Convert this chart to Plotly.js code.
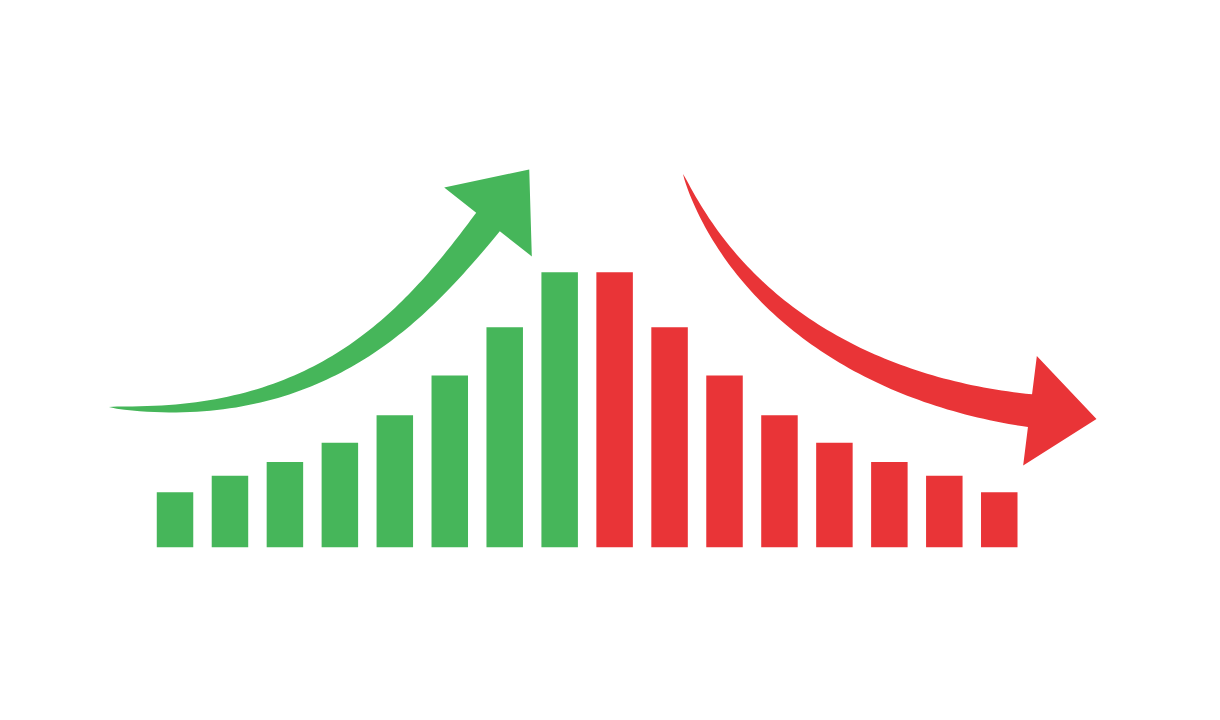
<!DOCTYPE html>
<html>
<head>
<meta charset="utf-8">
<script src="https://cdn.plot.ly/plotly-3.0.1.min.js"></script>
<style>
  html, body { margin: 0; padding: 0; background: #ffffff; }
  #chart { width: 1220px; height: 720px; }
</style>
</head>
<body>
<div id="chart"></div>
<script>
// ---- data ----
const risingPeriods  = ['P1', 'P2', 'P3', 'P4', 'P5', 'P6', 'P7', 'P8'];
const fallingPeriods = ['P9', 'P10', 'P11', 'P12', 'P13', 'P14', 'P15', 'P16'];
const risingValues   = [20, 26, 31, 38, 48, 62.5, 80, 100];
const fallingValues  = [100, 80, 62.5, 48, 38, 31, 26, 20];

// ---- styles ----
const GREEN = '#46b65a';
const RED = '#e93437';
const W = 1220, H = 720;

// ---- decorative tapered arrows (pixel geometry -> paper coords) ----
function toPaper(p) { return (p[0] / W).toFixed(5) + ',' + (1 - p[1] / H).toFixed(5); }
function bez(P, t) {
  const u = 1 - t;
  const a = u*u*u, b = 3*u*u*t, c = 3*u*t*t, d = t*t*t;
  return [a*P[0][0] + b*P[1][0] + c*P[2][0] + d*P[3][0],
          a*P[0][1] + b*P[1][1] + c*P[2][1] + d*P[3][1]];
}
function bezD(P, t) {
  const u = 1 - t;
  const x = 3*u*u*(P[1][0]-P[0][0]) + 6*u*t*(P[2][0]-P[1][0]) + 3*t*t*(P[3][0]-P[2][0]);
  const y = 3*u*u*(P[1][1]-P[0][1]) + 6*u*t*(P[2][1]-P[1][1]) + 3*t*t*(P[3][1]-P[2][1]);
  const L = Math.hypot(x, y) || 1;
  return [x / L, y / L];
}
function arrowPath(P, endWidth, power, headHalf, headLen) {
  const N = 80, A = [], B = [];
  for (let i = 0; i <= N; i++) {
    const t = i / N, c = bez(P, t), d = bezD(P, t), n = [-d[1], d[0]];
    const w = endWidth * Math.pow(t, power) / 2;
    A.push([c[0] + n[0]*w, c[1] + n[1]*w]);
    B.push([c[0] - n[0]*w, c[1] - n[1]*w]);
  }
  const e = P[3], d = bezD(P, 1), n = [-d[1], d[0]];
  const barbA = [e[0] + n[0]*headHalf, e[1] + n[1]*headHalf];
  const barbB = [e[0] - n[0]*headHalf, e[1] - n[1]*headHalf];
  const tip = [e[0] + d[0]*headLen, e[1] + d[1]*headLen];
  let s = 'M' + toPaper(A[0]);
  for (let i = 1; i <= N; i++) s += ' L' + toPaper(A[i]);
  s += ' L' + toPaper(barbA) + ' L' + toPaper(tip) + ' L' + toPaper(barbB);
  for (let i = N; i >= 0; i--) s += ' L' + toPaper(B[i]);
  return s + ' Z';
}
const upCurve   = [[109, 407], [320, 425], [415, 315], [488, 222]];
const downCurve = [[683, 174], [735, 303], [861, 389.6], [1030, 410.7]];

const traces = [
  { type: 'bar', name: 'Rising', x: risingPeriods, y: risingValues,
    marker: { color: GREEN, line: { width: 0 } }, width: 0.664 },
  { type: 'bar', name: 'Falling', x: fallingPeriods, y: fallingValues,
    marker: { color: RED, line: { width: 0 } }, width: 0.664 }
];

const layout = {
  width: W, height: H,
  margin: { l: 0, r: 0, t: 0, b: 0, pad: 0 },
  paper_bgcolor: '#ffffff', plot_bgcolor: '#ffffff',
  showlegend: false,
  barmode: 'overlay',
  xaxis: { type: 'category', categoryorder: 'array', categoryarray: risingPeriods.concat(fallingPeriods),
           range: [-3.185, 19.017], visible: false, showgrid: false, zeroline: false, fixedrange: true },
  yaxis: { range: [-62.8, 199.0], visible: false, showgrid: false, zeroline: false, fixedrange: true },
  shapes: [
    { type: 'path', xref: 'paper', yref: 'paper', layer: 'above',
      path: arrowPath(upCurve, 30, 0.6, 55.7, 66.8), fillcolor: GREEN, line: { width: 0 } },
    { type: 'path', xref: 'paper', yref: 'paper', layer: 'above',
      path: arrowPath(downCurve, 33, 0.7, 55.2, 67), fillcolor: RED, line: { width: 0 } }
  ]
};

Plotly.newPlot('chart', traces, layout, { displayModeBar: false, staticPlot: true });
</script>
</body>
</html>
